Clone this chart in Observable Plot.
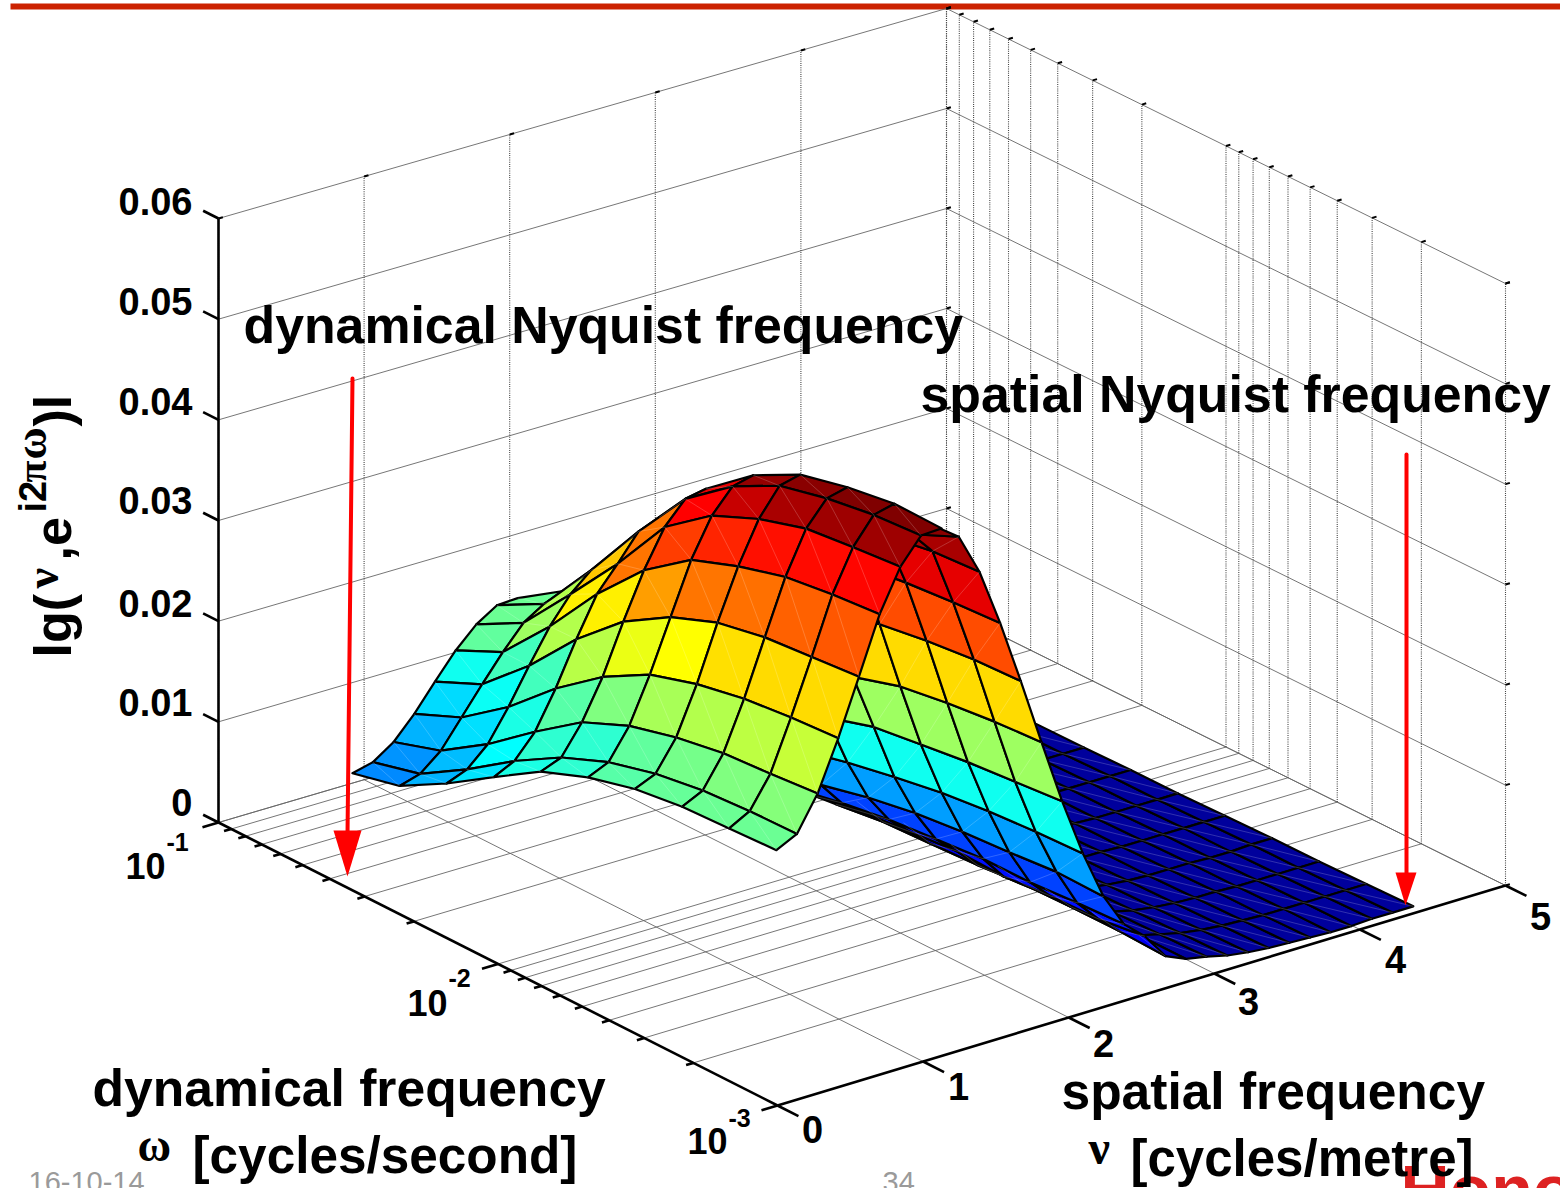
<!DOCTYPE html>
<html><head><meta charset="utf-8">
<style>html,body{margin:0;padding:0;background:#fff;overflow:hidden}svg{display:block}</style>
<script src="https://cdn.jsdelivr.net/npm/d3@7"></script>
<script src="https://cdn.jsdelivr.net/npm/@observablehq/plot@0.6"></script>
</head><body><div id="chart"></div>
<script>
// ---- grid of the surface ----
const nuGrid = [0.962,1.103,1.245,1.387,1.529,1.671,1.813,1.955,2.097,2.239,2.381,2.523,2.664,2.806,2.948,3.090,3.232,3.374,3.516,3.658,3.800,3.941,4.083,4.225,4.367];
const logOmegaGrid = [-3,-2.832,-2.663,-2.495,-2.326,-2.158,-1.989,-1.821,-1.652,-1.484,-1.315,-1.147,-0.978];
// near lobe: heights in 1e-4; rows are omega index 12 down to 3, columns nu index 0..8
const lobeHeights = [
 [5,10,24,46,72,97,117,130,131],
 [16,22,39,66,93,119,142,155,162],
 [42,50,69,100,135,168,194,212,220],
 [72,82,105,142,185,224,248,274,282],
 [101,109,138,177,226,271,308,330,334],
 [119,128,158,203,254,305,343,366,371],
 [131,140,170,217,272,322,363,390,395],
 [137,147,178,226,281,335,377,401,406],
 [139,150,181,231,285,341,382,408,413],
 [141,151,185,234,289,345,386,411,412]];
// colour level of each lobe cell: rows nu cell 0..7, columns omega cell from 12-11 to 4-3
const lobeLevels = [
 [.26,.30,.35,.40,.42,.46,.475,.48,.48],
 [.27,.31,.375,.42,.42,.47,.49,.50,.505],
 [.30,.345,.40,.46,.50,.54,.55,.56,.57],
 [.34,.385,.44,.555,.605,.625,.655,.66,.66],
 [.39,.44,.55,.64,.72,.76,.765,.78,.79],
 [.47,.53,.64,.76,.815,.84,.86,.865,.87],
 [.48,.55,.68,.76,.875,.93,.96,.97,.97],
 [.48,.58,.72,.79,.90,.98,.99,1,1]];
// far slope: rows nu index 1..13, columns omega index 0..7
const slopeHeights = [
 [526,511,478,439,395,347,293,240],
 [511,490,461,423,379,331,277,223],
 [470,467,459,436,403,359,311,257],
 [413,410,406,400,381,348,305,251],
 [349,347,342,335,324,302,268,225],
 [282,279,274,267,253,236,213,179],
 [217,213,209,203,197,183,167,138],
 [159,157,154,149,141,132,121,99],
 [110,111,107,104,99,91,80,67],
 [76,74,71,71,67,63,56,47],
 [58,52,51,47,49,45,41,33],
 [32,34,34,33,29,27,25,19],
 [23,23,23,23,22,20,18,16]];
const slopeLevels = [.99,.96,.90,.80,.66,.53,.39,.28,.19,.14,.11,.05];
// plateau: rows omega index 0..8, columns nu index 13..24
const plateauHeights = [
 [23,19,14,11,9,8,7,6,6,7,7,7],
 [23,18,13,10,8,7,6,6,6,6,6,6],
 [23,17,12,9,7,6,6,5,5,5,5,5],
 [23,16,11,8,6,5,5,5,4,4,5,5],
 [22,15,10,7,5,5,4,4,4,4,4,4],
 [20,14,9,6,5,4,4,3,3,3,3,3],
 [18,13,8,6,4,4,3,3,3,3,3,3],
 [16,12,7,5,4,3,3,3,2,2,2,2],
 [14,11,7,5,4,3,3,2,2,2,2,2]];
const plateauLevel = 0.015;
// ---- axes ----
const zTicks = [0,0.01,0.02,0.03,0.04,0.05,0.06];
const zLabels = ["0","0.01","0.02","0.03","0.04","0.05","0.06"];
const nuTicks = [0,1,2,3,4,5];
const omegaDecades = [-3,-2];
const omegaMinors = [1,2,3,4,5,6,7,8,9];
const jetStops = [0,.125,.375,.625,.875,1];
const jetColors = ["#00008f","#0000ff","#00ffff","#ffff00","#ff0000","#800000"];

function P(nu, lw, z){
  const a = nu/5, t = (lw+3)/2;
  return {x: 777 + 728*a - 559*t,
          y: 1105 - 220*a - 283*t + 6*a*t - (z/0.06)*(604 - 2*a - 2*a*t)};
}
const H = v => v*1e-4;
const V = (i,j,v) => P(nuGrid[i], logOmegaGrid[j], H(v));

const omegaVals = [];
for (const d of omegaDecades) for (const m of omegaMinors) omegaVals.push(d + Math.log10(m));
omegaVals.push(-1);

function seg(p,q){return {x1:p.x,y1:p.y,x2:q.x,y2:q.y};}
// ---- frame lines ----
const grey=[], dotted=[], heavy=[], dash=[];
for (const lw of omegaVals){
  grey.push(seg(P(0,lw,0),P(5,lw,0)));
  dotted.push(seg(P(5,lw,0),P(5,lw,0.06)));
  dash.push(seg(P(5,lw,0.06),P(5.03,lw,0.06)));
  const maj = Number.isInteger(lw);
  heavy.push(seg(P(0,lw,0),P(maj?-0.11:-0.05,lw,0)));
}
for (const n of nuTicks){
  grey.push(seg(P(n,-3,0),P(n,-1,0)));
  dotted.push(seg(P(n,-1,0),P(n,-1,0.06)));
  dash.push(seg(P(n,-1,0.06),P(n+0.03,-1,0.06)));
  heavy.push(seg(P(n,-3,0),P(n,-3.075,0)));
}
for (const z of zTicks){
  grey.push(seg(P(0,-1,z),P(5,-1,z)));
  grey.push(seg(P(5,-1,z),P(5,-3,z)));
  dash.push(seg(P(5,-1,z),P(5.03,-1,z)));
  dash.push(seg(P(5,-3,z),P(5.03,-3,z)));
  heavy.push(seg(P(0,-1,z),P(0,-0.945,z)));
}
heavy.push(seg(P(0,-1,0),P(0,-1,0.06)));
heavy.push(seg(P(0,-1,0),P(0,-3,0)));
heavy.push(seg(P(0,-3,0),P(5,-3,0)));

// ---- quads ----
function build(cells){
  const verts=[], seams=[];
  cells.forEach((c,k)=>{
    for (const p of [c.a,c.b,c.c,c.d,c.a]) verts.push({x:p.x,y:p.y,id:c.tag+k,level:c.level});
    seams.push(c.flip ? seg(c.b,c.d) : seg(c.a,c.c));
  });
  return {verts,seams};
}
const plateauCells=[];
for (let j=7;j>=0;j--) for (let n=0;n<11;n++){
  const i=n+13, h=plateauHeights;
  plateauCells.push({tag:"p",level:plateauLevel,flip:true,
    a:V(i,j,h[j][n]),b:V(i+1,j,h[j][n+1]),c:V(i+1,j+1,h[j+1][n+1]),d:V(i,j+1,h[j+1][n])});
}
const slopeCells=[];
for (let r=11;r>=0;r--) for (let j=6;j>=0;j--){
  const i=r+1, h=slopeHeights;
  slopeCells.push({tag:"s",level:slopeLevels[r],
    a:V(i,j,h[r][j]),b:V(i+1,j,h[r+1][j]),c:V(i+1,j+1,h[r+1][j+1]),d:V(i,j+1,h[r][j+1])});
}
const lobeCells=[];
for (let i=7;i>=0;i--) for (let c=0;c<9;c++){
  const j=12-c, h=lobeHeights;
  lobeCells.push({tag:"l",level:lobeLevels[i][c],
    a:V(i,j-1,h[c+1][i]),b:V(i+1,j-1,h[c+1][i+1]),c:V(i+1,j,h[c][i+1]),d:V(i,j,h[c][i])});
}
const plateau=build(plateauCells), slope=build(slopeCells), lobe=build(lobeCells);

function surfaceMarks(s){return [
  Plot.line(s.verts,{x:"x",y:"y",z:"id",fill:"level",stroke:"black",strokeWidth:2.2,strokeLinejoin:"round"}),
  Plot.link(s.seams,{x1:"x1",y1:"y1",x2:"x2",y2:"y2",stroke:"white",strokeOpacity:0.28,strokeWidth:0.7})
];}

// ---- annotation arrows ----
const arrowShafts=[[{x:352,y:378},{x:347,y:835}],[{x:1406,y:454},{x:1406,y:875}]];
const arrowHeads=[[{x:333,y:830},{x:361,y:830},{x:347,y:876}],[{x:1395,y:872},{x:1416,y:872},{x:1405,y:905}]];

// ---- text ----
const sans="'Liberation Sans',Arial,sans-serif", serif="'Liberation Serif',serif";
const T=(t,x,y,size,o={})=>Plot.text([t],{x:()=>x,y:()=>y,text:d=>d,fontSize:size,fontWeight:o.weight||"bold",fontFamily:o.family||sans,
   textAnchor:o.anchor||"start",lineAnchor:"bottom",rotate:o.rotate||0,fill:o.fill||"black"});

const zLabelMarks = zLabels.map((s,k)=>T(s,192,[815,715,616,513,414,314,214][k],38,{anchor:"end"}));
const nuLabelPos=[[812,1142],[958,1099],[1103,1056],[1248,1014],[1395,972],[1540,929]];
const nuLabelMarks = nuTicks.map((n,k)=>T(String(n),nuLabelPos[k][0],nuLabelPos[k][1],38,{anchor:"middle"}));

const chart = Plot.plot({
  width:1560,height:1188,margin:0,
  x:{domain:[0,1560],range:[0,1560],axis:null},
  y:{domain:[0,1188],range:[0,1188],axis:null},
  color:{type:"linear",domain:jetStops,range:jetColors,interpolate:"rgb"},
  style:{background:"white"},
  marks:[
    Plot.link([{x1:10,x2:1560,y:6}],{x1:"x1",x2:"x2",y1:"y",y2:"y",stroke:"#cc2200",strokeWidth:6}),
    Plot.link(grey,{x1:"x1",y1:"y1",x2:"x2",y2:"y2",stroke:"#666",strokeWidth:0.9}),
    Plot.link(dotted,{x1:"x1",y1:"y1",x2:"x2",y2:"y2",stroke:"#444",strokeWidth:1.1,strokeDasharray:"1,1.2"}),
    Plot.link(dash,{x1:"x1",y1:"y1",x2:"x2",y2:"y2",stroke:"black",strokeWidth:2}),
    Plot.link(heavy,{x1:"x1",y1:"y1",x2:"x2",y2:"y2",stroke:"black",strokeWidth:2.6}),
    ...surfaceMarks(plateau),
    ...surfaceMarks(slope),
    ...surfaceMarks(lobe),
    ...arrowShafts.map(a=>Plot.line(a,{x:"x",y:"y",stroke:"#ff0000",strokeWidth:4})),
    ...arrowHeads.map(a=>Plot.line(a,{x:"x",y:"y",fill:"#ff0000",stroke:"none"})),
    ...zLabelMarks, ...nuLabelMarks,
    T("10",125,878,36),T("-1",166,850,25),
    T("10",407,1015,36),T("-2",448,986,25),
    T("10",687,1153,36),T("-3",728,1126,25),
    // y label, built from pieces
    T("lg(",70,657,52,{rotate:-90}),
    T("ν",57,588,46,{rotate:-90,family:serif}),
    T(",e",70,560,52,{rotate:-90}),
    T("i2",45,512,38,{rotate:-90}),
    T("π",45,482,40,{rotate:-90,family:serif}),
    T("ω",45,459,44,{rotate:-90,family:serif}),
    T(")l",70,426,52,{rotate:-90}),
    // annotations
    T("dynamical Nyquist frequency",243,342,51.8),
    T("spatial Nyquist frequency",920,411,51.8),
    // footer
    T("16-10-14",28,1191,29,{fill:"#9a9a9a",weight:"normal"}),
    T("34",882,1191,29,{fill:"#9a9a9a",weight:"normal"}),
    T("Hono",1400,1212,68,{fill:"#dd2222"}),
    // axis titles
    T("dynamical frequency",92,1105,51.6),
    T("ω",137,1160,46,{family:serif}),
    T("[cycles/second]",192,1172,51.3),
    T("spatial frequency",1061,1108,51.5),
    T("ν",1088,1163,48,{family:serif}),
    T("[cycles/metre]",1130,1175,51)
  ]
});
document.getElementById("chart").append(chart);
</script></body></html>
